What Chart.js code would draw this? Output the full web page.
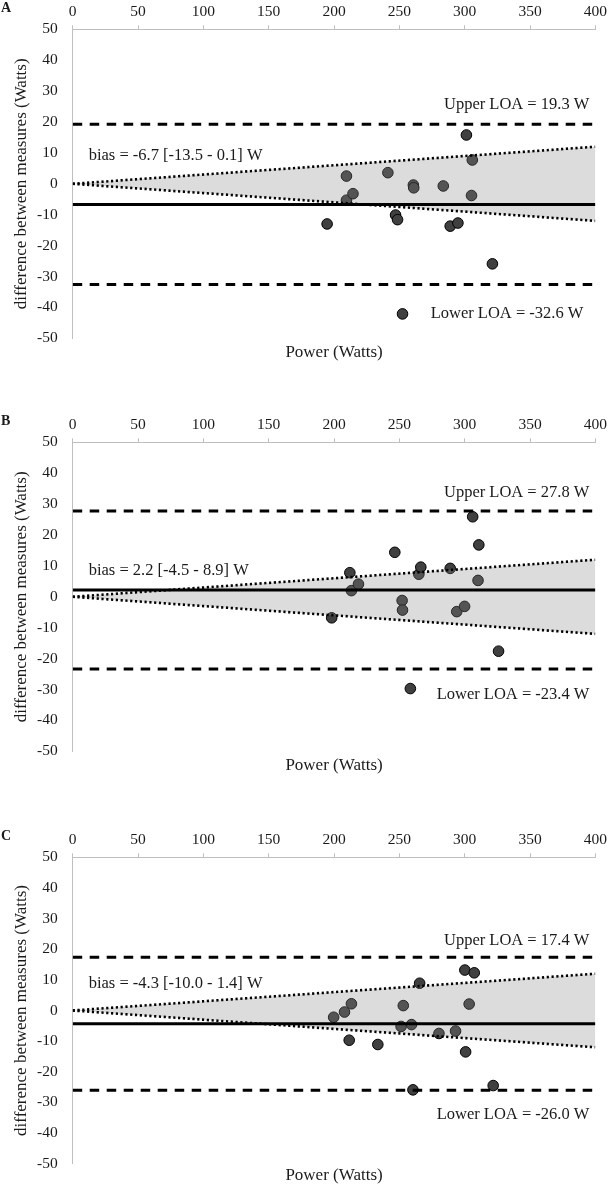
<!DOCTYPE html>
<html>
<head>
<meta charset="utf-8">
<script src="https://cdn.jsdelivr.net/npm/chart.js@4.4.1/dist/chart.umd.min.js"></script>
<style>
html, body { margin: 0; padding: 0; background: #fff; }
body { width: 611px; height: 1188px; position: relative; overflow: hidden; }
canvas { position: absolute; left: 0; display: block; }
</style>
</head>
<body>
<canvas id="cA" width="611" height="400" style="top:0px"></canvas>
<canvas id="cB" width="611" height="400" style="top:413px"></canvas>
<canvas id="cC" width="611" height="360" style="top:828px"></canvas>
<script>
// ---------- data ----------
const panelLetters = ['A', 'B', 'C'];
const xTickValues = [0, 50, 100, 150, 200, 250, 300, 350, 400];
const yTickValues = [-50, -40, -30, -20, -10, 0, 10, 20, 30, 40, 50];

const powerA = [194.7, 209.5, 209.5, 214.5, 241.2, 247.1, 248.6, 260.7, 261.0, 283.6, 288.9, 294.8, 301.3, 305.8, 305.2, 321.2, 252.4];
const diffA  = [-13.0, 2.5, -5.3, -3.2, 3.6, -10.1, -11.6, -0.4, -1.3, -0.7, -13.7, -12.7, 15.8, 7.7, -3.8, -25.9, -42.1];

const powerB = [198.2, 212.1, 213.3, 218.7, 246.5, 252.1, 252.4, 258.4, 264.9, 266.4, 288.9, 293.9, 299.9, 306.1, 310.8, 310.2, 325.9];
const diffB  = [-6.8, 7.8, 2.0, 4.1, 14.4, -1.2, -4.3, -29.7, 7.3, 9.6, 9.2, -4.8, -3.1, 25.9, 16.8, 5.3, -17.6];

const powerC = [199.7, 208.0, 213.3, 211.6, 233.5, 251.3, 253.0, 259.3, 260.4, 265.5, 280.3, 293.0, 300.1, 303.4, 300.7, 307.3, 321.8];
const diffC  = [-2.2, -0.5, 2.2, -9.7, -11.1, -5.2, 1.6, -4.6, -25.9, 8.9, -7.5, -6.7, 13.2, 2.1, -13.5, 12.3, -24.5];

const biasValues = [-6.7, 2.2, -4.3];
const biasCILow  = [-13.5, -4.5, -10.0];
const biasCIHigh = [0.1, 8.9, 1.4];
const upperLOA   = [19.3, 27.8, 17.4];
const lowerLOA   = [-32.6, -23.4, -26.0];

const bandPower = [0, 400];
const bandUpper = [0, 12];
const bandLower = [0, -12];

// ---------- layout (positions in axis units / pixels, not data) ----------
const labelLayout = [
  { upperY: 25.5, biasY: 9.1, lowerY: -42.0, lowerDx: 12 },
  { upperY: 33.7, biasY: 8.4, lowerY: -31.7, lowerDx: 6 },
  { upperY: 22.7, biasY: 8.9, lowerY: -34.0, lowerDx: 6 }
];

const SERIF = '"Liberation Serif", "Times New Roman", serif';
Chart.defaults.font.family = SERIF;
Chart.defaults.color = '#1a1a1a';

const AXIS_GRAY = '#bfbfbf';
const TOP_H = 29.3;
const AREA_H = 309;
const LEFT_W = 72.7;

function fmt(v) { return v.toFixed(1); }

function makePanel(canvasId, idx, power, diff) {
  const canvas = document.getElementById(canvasId);
  const H = canvas.height;
  const x2H = H - TOP_H - AREA_H;
  const titlePadBottom = Math.max(0, H - 10.2 - (TOP_H + AREA_H + 13.8));
  const lay = labelLayout[idx];

  const line = (xs, ys) => xs.map((x, i) => ({ x: x, y: ys[i] }));
  const flat = (v) => [{ x: bandPower[0], y: v }, { x: bandPower[1], y: v }];

  const annot = {
    id: 'annot' + idx,
    afterDatasetsDraw(chart) {
      const { ctx, chartArea, scales } = chart;
      const y = scales.y;
      ctx.save();
      ctx.fillStyle = '#1a1a1a';
      ctx.textBaseline = 'middle';
      ctx.font = '16.5px ' + SERIF;
      ctx.textAlign = 'right';
      ctx.fillText('Upper LOA = ' + fmt(upperLOA[idx]) + ' W', chartArea.right - 6, y.getPixelForValue(lay.upperY));
      ctx.fillText('Lower LOA = ' + fmt(lowerLOA[idx]) + ' W', chartArea.right - lay.lowerDx, y.getPixelForValue(lay.lowerY));
      ctx.textAlign = 'left';
      ctx.fillText('bias = ' + fmt(biasValues[idx]) + ' [' + fmt(biasCILow[idx]) + ' - ' + fmt(biasCIHigh[idx]) + '] W',
                   chartArea.left + 16, y.getPixelForValue(lay.biasY));
      ctx.font = 'bold 14px ' + SERIF;
      ctx.fillText(panelLetters[idx], 1, 8);
      ctx.restore();
    }
  };

  const dotted = {
    borderColor: '#000', borderWidth: 2.6, borderDash: [2.2, 2.6], borderCapStyle: 'butt', pointRadius: 0
  };

  return new Chart(canvas, {
    type: 'scatter',
    data: {
      datasets: [
        Object.assign({ // upper dotted band line, fills to lower
          type: 'line', data: line(bandPower, bandUpper), xAxisID: 'x', yAxisID: 'y',
          fill: { target: 1 }, backgroundColor: 'rgba(136,136,136,0.29)', order: 4
        }, dotted),
        Object.assign({ // lower dotted band line
          type: 'line', data: line(bandPower, bandLower), xAxisID: 'x', yAxisID: 'y',
          fill: false, order: 3
        }, dotted),
        { // bias
          type: 'line', data: flat(biasValues[idx]), xAxisID: 'x', yAxisID: 'y',
          borderColor: '#000', borderWidth: 3, pointRadius: 0, fill: false, order: 1
        },
        { // upper LOA
          type: 'line', data: flat(upperLOA[idx]), xAxisID: 'x', yAxisID: 'y',
          borderColor: '#000', borderWidth: 3, borderDash: [9.5, 7.5], pointRadius: 0, fill: false, order: 2
        },
        { // lower LOA
          type: 'line', data: flat(lowerLOA[idx]), xAxisID: 'x', yAxisID: 'y',
          borderColor: '#000', borderWidth: 3, borderDash: [9.5, 7.5], pointRadius: 0, fill: false, order: 2
        },
        { // measurements
          type: 'scatter', data: line(power, diff), xAxisID: 'x', yAxisID: 'y',
          pointRadius: 5.3, pointBackgroundColor: '#404040', pointBorderColor: '#000', pointBorderWidth: 1,
          order: 5
        }
      ]
    },
    options: {
      responsive: false,
      animation: false,
      events: [],
      layout: { padding: { left: 0, right: 12, top: 0, bottom: 0 } },
      plugins: { legend: { display: false }, tooltip: { enabled: false } },
      scales: {
        x: {
          type: 'linear', position: 'top', min: 0, max: 400,
          afterBuildTicks(s) { s.ticks = xTickValues.map(v => ({ value: v })); },
          afterFit(s) { s.height = TOP_H; },
          grid: { display: true, drawOnChartArea: false, drawTicks: true, tickLength: 4, color: AXIS_GRAY, lineWidth: 1 },
          border: { display: true, color: AXIS_GRAY, width: 1 },
          ticks: { padding: 4, maxRotation: 0, autoSkip: false, font: { size: 15.5 }, color: '#1a1a1a' }
        },
        x2: {
          type: 'linear', axis: 'x', position: 'bottom', min: 0, max: 1,
          afterFit(s) { s.height = x2H; },
          grid: { display: false }, border: { display: false },
          ticks: { display: false },
          title: { display: true, text: 'Power (Watts)', font: { size: 17 }, color: '#1a1a1a',
                   padding: { top: 0, bottom: titlePadBottom } }
        },
        y: {
          type: 'linear', position: 'left', min: -50, max: 50,
          afterBuildTicks(s) { s.ticks = yTickValues.map(v => ({ value: v })); },
          afterFit(s) { s.width = LEFT_W; },
          grid: { display: false, drawTicks: false },
          border: { display: true, color: AXIS_GRAY, width: 1 },
          ticks: { padding: 15, font: { size: 15.5 }, color: '#1a1a1a' },
          title: { display: true, text: 'difference between measures (Watts)', font: { size: 17 }, color: '#1a1a1a',
                   padding: { top: 11, bottom: 0 } }
        }
      }
    },
    plugins: [annot]
  });
}

makePanel('cA', 0, powerA, diffA);
makePanel('cB', 1, powerB, diffB);
makePanel('cC', 2, powerC, diffC);
</script>
</body>
</html>
